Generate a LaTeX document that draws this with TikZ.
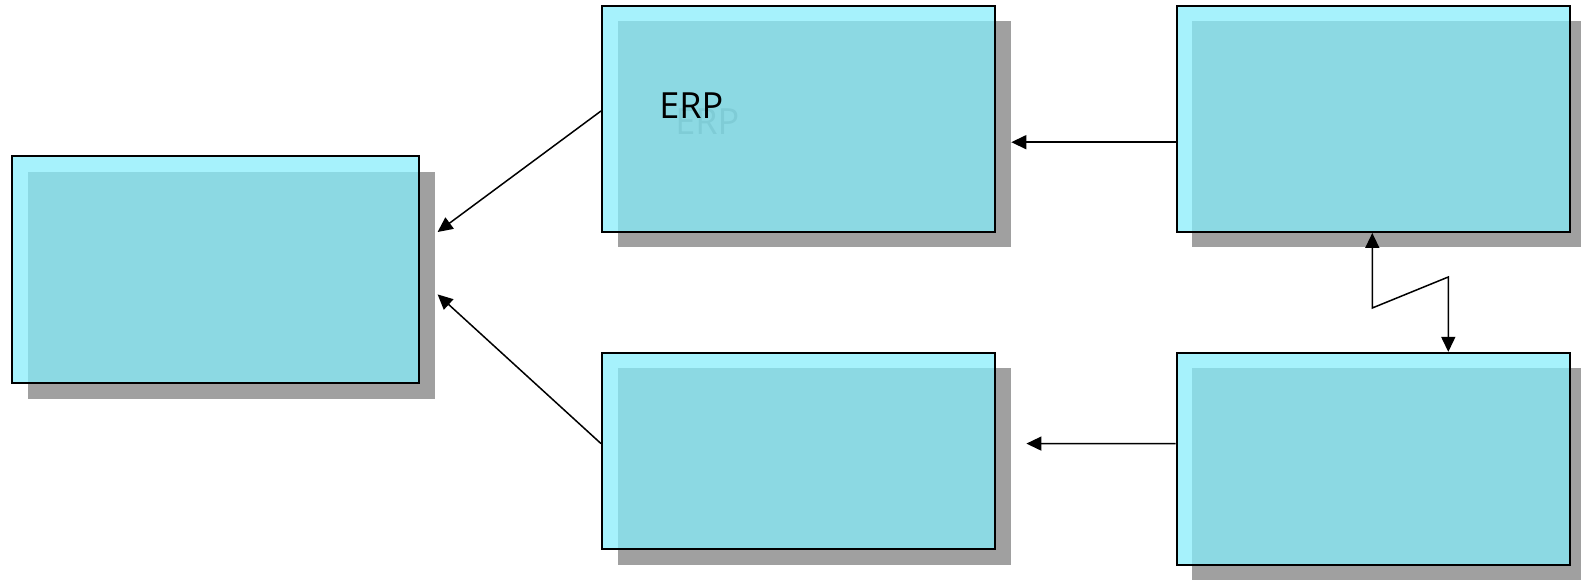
\documentclass[tikz,border=0pt]{standalone}
\usepackage{fontspec}
\setmainfont{Open Sans}
\usetikzlibrary{arrows.meta,shadows}
\definecolor{boxcyan}{RGB}{166,242,252}
\definecolor{overlapc}{RGB}{140,217,227}
\definecolor{shadowgray}{RGB}{160,160,160}
\definecolor{ghostc}{RGB}{127,204,214}
\begin{document}
\begin{tikzpicture}[x=0.5pt,y=-0.5pt,
  bx/.style={draw,line width=1pt,fill=boxcyan,inner sep=0pt,minimum width=196.6pt,
    drop shadow={shadow xshift=7.75pt,shadow yshift=-7.75pt,fill=shadowgray,opacity=1},
    path picture={\fill[overlapc] ([shift={(7.75pt,-7.75pt)}]path picture bounding box.north west)
      rectangle (path picture bounding box.south east);}},
  lbl/.style={font=\fontsize{18}{21}\selectfont,inner sep=0pt,anchor=base west},
  ar/.style={-{Triangle[length=7.5pt,width=7pt]},line width=0.75pt},
  dar/.style={{Triangle[length=7.5pt,width=7pt]}-{Triangle[length=7.5pt,width=7pt]},line width=0.75pt}
]
\useasboundingbox (0,0) rectangle (1581,581);

% boxes
\node[bx,minimum width=203.65pt,minimum height=113.4pt] (hub) at (215.75,269.7) {};
\node[bx,minimum height=113pt]    (erp) at (798.6,119)    {};
\node[bx,minimum height=113pt]    (upr) at (1373.3,119)   {};
\node[bx,minimum height=98.3pt]   (mid) at (798.6,451.2)  {};
\node[bx,minimum height=105.85pt] (lwr) at (1373.3,458.75) {};

% label with its faded copy
\node[lbl,text=ghostc] (erpsh)  at (675,134.3) {ERP};
\node[lbl]             (erplbl) at (659,118.3) {ERP};

% connectors
\draw[ar] ([yshift=4pt]erp.west) -- ([xshift=8.6pt,yshift=18.85pt]hub.east);
\draw[ar] ([yshift=3.8pt]mid.west) -- ([xshift=8.6pt,yshift=-12.35pt]hub.east);
\draw[ar] ([yshift=-11.6pt]upr.west) -- ([xshift=7.55pt,yshift=-11.6pt]erp.east);
\draw[ar] ([yshift=7.6pt]lwr.west) -- ([xshift=15.1pt,yshift=3.8pt]mid.east);
\draw[dar] ([xshift=-0.5pt]upr.south) -- ++(0,75) -- ++(76,-31) -- ([xshift=37.5pt]lwr.north);
\end{tikzpicture}
\end{document}
